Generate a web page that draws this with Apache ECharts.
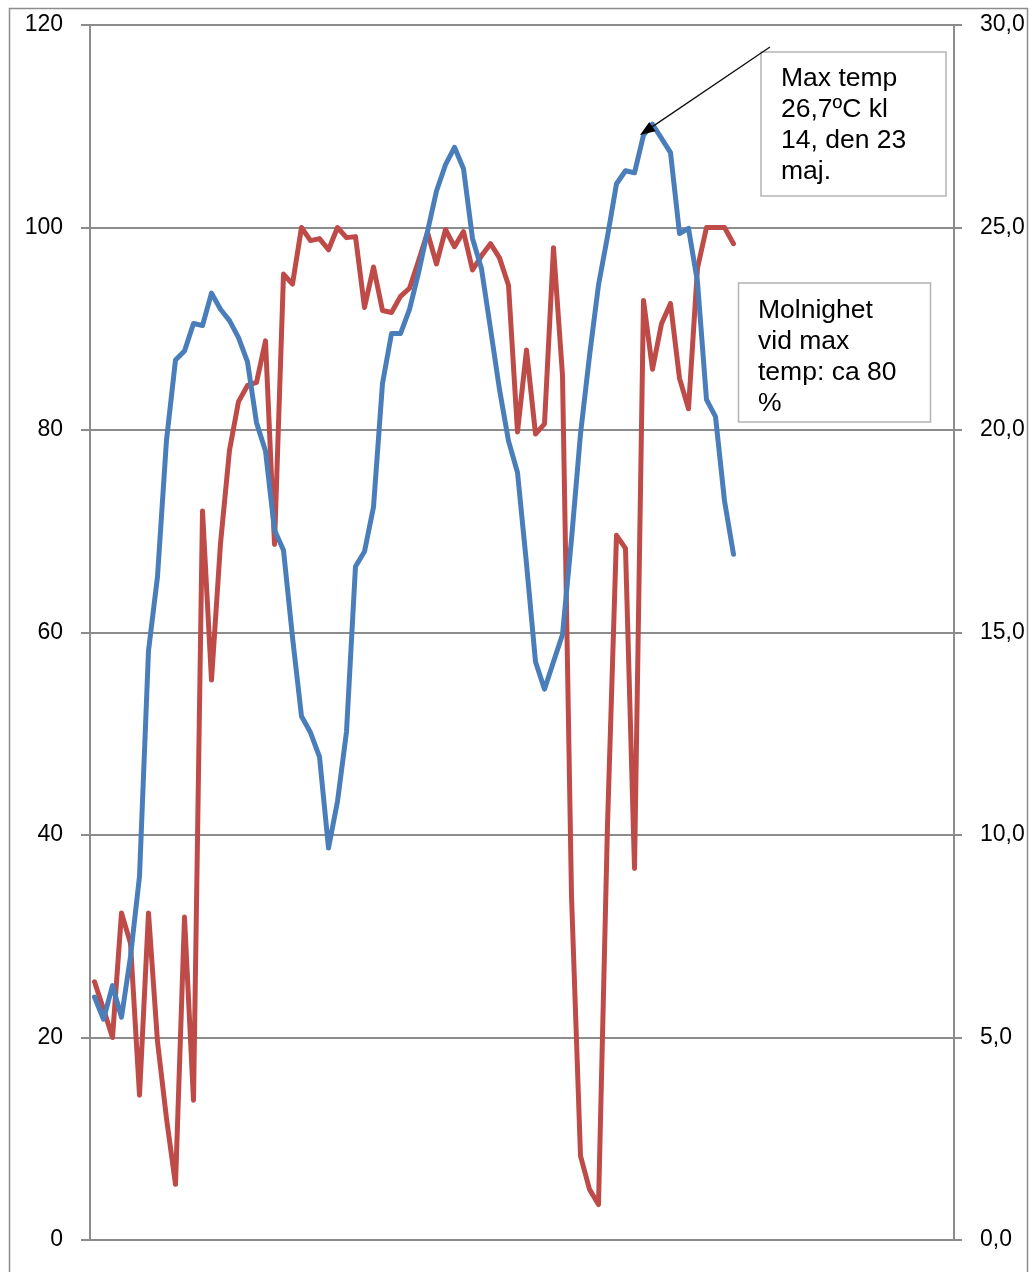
<!DOCTYPE html>
<html>
<head>
<meta charset="utf-8">
<script src="https://cdn.jsdelivr.net/npm/echarts@6/dist/echarts.min.js"></script>
<style>
html,body{margin:0;padding:0;background:#fff;}
#chart{width:1033px;height:1272px;}
</style>
</head>
<body>
<div id="chart"></div>
<script>
// 96 hourly slots on the category axis (4 days), data for the first 72
const categories = Array.from({length: 96}, (_, i) => String(i + 1));

// Cloudiness (%), left axis
const cloudiness = [
  25.5, 22.8, 20.0, 32.3, 29.3, 14.3, 32.3, 19.6, 12.0, 5.5, 31.9, 13.8,
  72.0, 55.3, 68.8, 78.0, 82.8, 84.4, 84.7, 88.8, 68.7, 95.4, 94.4, 100.0,
  98.7, 98.9, 97.8, 100.0, 99.0, 99.1, 92.1, 96.1, 91.8, 91.6, 93.2, 94.0,
  96.7, 99.5, 96.4, 99.8, 98.1, 99.6, 95.8, 97.2, 98.4, 97.0, 94.3, 79.8,
  87.9, 79.6, 80.6, 98.0, 85.4, 34.0, 8.3, 5.0, 3.5, 41.0, 69.6, 68.3,
  36.7, 92.8, 86.0, 90.5, 92.5, 85.1, 82.1, 96.0, 100.0, 100.0, 100.0, 98.4
];

// Temperature (°C), right axis
const temperature = [
  6.0, 5.45, 6.28, 5.5, 7.0, 8.98, 14.55, 16.38, 19.75, 21.73, 21.95, 22.63,
  22.58, 23.38, 22.98, 22.7, 22.28, 21.68, 20.18, 19.48, 17.53, 17.03, 14.88, 12.93,
  12.53, 11.93, 9.68, 10.83, 12.55, 16.63, 17.0, 18.1, 21.15, 22.38, 22.38, 22.98,
  23.88, 24.9, 25.9, 26.55, 26.98, 26.45, 24.73, 23.98, 22.5, 21.0, 19.73, 18.95,
  16.7, 14.28, 13.6, 14.28, 14.95, 17.3, 19.9, 21.83, 23.58, 24.78, 26.08, 26.4,
  26.35, 27.28, 27.55, 27.2, 26.85, 24.85, 24.98, 23.65, 20.75, 20.33, 18.25, 16.93
];

// Axis ticks
const leftTicks = {min: 0, max: 120, interval: 20};
const rightTicks = {min: 0, max: 30, interval: 5};

const annotation1 = ['Max temp', '26,7ºC kl', '14, den 23', 'maj.'];
const annotation2 = ['Molnighet', 'vid max', 'temp: ca 80', '%'];

const chart = echarts.init(document.getElementById('chart'), null, {renderer: 'canvas'});

const gridColor = '#8c8c8c';
const font = '"Liberation Sans", Arial, sans-serif';

// arrow geometry
const tip = [640, 135], start = [770, 47];
const dx = tip[0] - start[0], dy = tip[1] - start[1];
const len = Math.sqrt(dx * dx + dy * dy);
const ux = dx / len, uy = dy / len;
const hl = 15, hw = 5.5;
const bx = tip[0] - ux * hl, by = tip[1] - uy * hl;
const arrowHead = [tip, [bx + uy * hw, by - ux * hw], [bx - uy * hw, by + ux * hw]];

chart.setOption({
  animation: false,
  backgroundColor: '#fff',
  grid: {left: 90, right: 79, top: 25, bottom: 32, containLabel: false},
  xAxis: {
    type: 'category',
    data: categories,
    boundaryGap: true,
    axisLine: {show: true, lineStyle: {color: gridColor, width: 2}},
    axisTick: {show: false},
    axisLabel: {show: false},
    splitLine: {show: false}
  },
  yAxis: [
    {
      type: 'value',
      min: leftTicks.min, max: leftTicks.max, interval: leftTicks.interval,
      axisLine: {show: true, lineStyle: {color: gridColor, width: 2}},
      axisTick: {show: true, length: 9, lineStyle: {color: gridColor, width: 2}},
      axisLabel: {color: '#000', fontSize: 23, fontFamily: font, margin: 27},
      splitLine: {show: true, lineStyle: {color: gridColor, width: 2}}
    },
    {
      type: 'value',
      position: 'right',
      min: rightTicks.min, max: rightTicks.max, interval: rightTicks.interval,
      axisLine: {show: true, lineStyle: {color: gridColor, width: 2}},
      axisTick: {show: true, length: 8, lineStyle: {color: gridColor, width: 2}},
      axisLabel: {
        color: '#000', fontSize: 23, fontFamily: font, margin: 26,
        formatter: v => v.toFixed(1).replace('.', ',')
      },
      splitLine: {show: false}
    }
  ],
  series: [
    {
      name: 'Molnighet',
      type: 'line',
      yAxisIndex: 0,
      data: cloudiness,
      symbol: 'none',
      lineStyle: {color: '#be4b48', width: 5, join: 'round', cap: 'round'},
      z: 2
    },
    {
      name: 'Temperatur',
      type: 'line',
      yAxisIndex: 1,
      data: temperature,
      symbol: 'none',
      lineStyle: {color: '#4a7ebb', width: 5, join: 'round', cap: 'round'},
      z: 3
    }
  ],
  graphic: [
    {
      type: 'rect', silent: true, z: 0,
      shape: {x: 9.5, y: 8.5, width: 1018, height: 1300},
      style: {fill: 'none', stroke: '#8c8c8c', lineWidth: 1.5}
    },
    {
      type: 'rect', z: 10,
      shape: {x: 761, y: 52, width: 185, height: 144},
      style: {fill: '#fff', stroke: '#b4b4b4', lineWidth: 1.5}
    },
    {
      type: 'text', z: 11, left: 781, top: 63,
      style: {text: annotation1.join('\n'), font: '26.5px ' + font, fill: '#000', lineHeight: 31}
    },
    {
      type: 'rect', z: 10,
      shape: {x: 738.5, y: 283, width: 192, height: 139},
      style: {fill: '#fff', stroke: '#b4b4b4', lineWidth: 1.5}
    },
    {
      type: 'text', z: 11, left: 758, top: 295,
      style: {text: annotation2.join('\n'), font: '26.5px ' + font, fill: '#000', lineHeight: 31}
    },
    {
      type: 'line', z: 12,
      shape: {x1: start[0], y1: start[1], x2: bx, y2: by},
      style: {stroke: '#111', lineWidth: 1.3}
    },
    {
      type: 'polygon', z: 12,
      shape: {points: arrowHead},
      style: {fill: '#000'}
    }
  ]
});
</script>
</body>
</html>
